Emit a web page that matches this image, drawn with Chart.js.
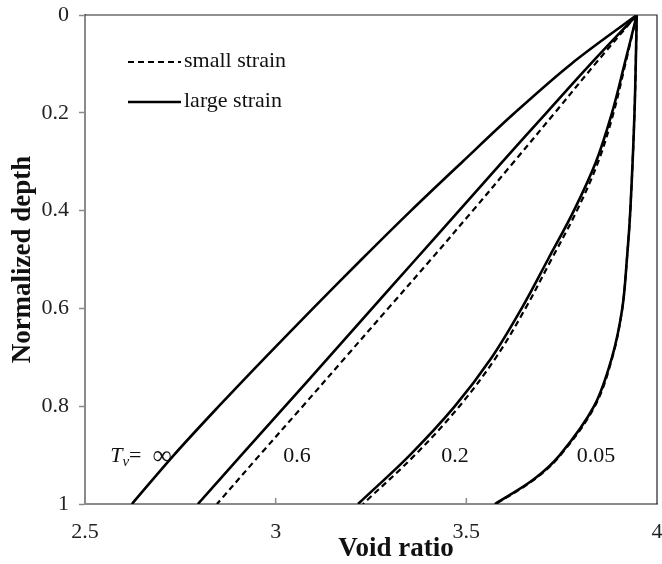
<!DOCTYPE html>
<html>
<head>
<meta charset="utf-8">
<script src="https://cdn.jsdelivr.net/npm/chart.js@4.4.1/dist/chart.umd.min.js"></script>
<style>
  html, body { margin: 0; padding: 0; background: #fff; }
</style>
</head>
<body>
<canvas id="chart" width="662" height="564"></canvas>
<script>
// normalized depth (0 = top surface, 1 = drained base)
const depth = [0, 0.1, 0.2, 0.3, 0.4, 0.5, 0.6, 0.7, 0.8, 0.9, 1]
const depthBase = [0, 0.2, 0.4, 0.5, 0.6, 0.7, 0.8, 0.9, 0.95, 1]

// void ratio profiles for each time factor Tv
const largeInf = [3.947, 3.775, 3.627, 3.490, 3.355, 3.225, 3.098, 2.973, 2.851, 2.733, 2.623]
const large06 = [3.947, 3.826, 3.710, 3.595, 3.481, 3.367, 3.253, 3.139, 3.025, 2.910, 2.796]
const small06 = [3.947, 3.838, 3.732, 3.625, 3.517, 3.407, 3.295, 3.183, 3.071, 2.958, 2.846]
const large02 = [3.947, 3.915, 3.882, 3.840, 3.782, 3.714, 3.645, 3.567, 3.470, 3.352, 3.216]
const small02 = [3.947, 3.917, 3.886, 3.846, 3.790, 3.723, 3.655, 3.578, 3.482, 3.365, 3.229]
const large005 = [3.947, 3.941, 3.930, 3.921, 3.909, 3.882, 3.835, 3.745, 3.676, 3.575]
const small005 = [3.947, 3.941, 3.930, 3.921, 3.909, 3.883, 3.837, 3.747, 3.678, 3.577]

const xTicks = [2.5, 3, 3.5, 4]
const yTicks = [0, 0.2, 0.4, 0.6, 0.8, 1]

const serif = "'Liberation Serif', 'Times New Roman', serif"

function toPoints(ds, es) {
    return es.map((e, i) => ({ x: e, y: ds[i] }))
}

function curve(ds, es, dashed) {
    return {
        data: toPoints(ds, es),
        borderColor: "#000",
        borderWidth: dashed ? 2.2 : 2.6,
        borderDash: dashed ? [6, 4] : [],
        pointRadius: 0,
        showLine: true,
        fill: false,
        tension: 0.35,
    }
}

// frame, inward x ticks, legend, curve labels and axis titles
const decorations = {
    id: "decorations",
    afterDraw(chart) {
        const ctx = chart.ctx
        const area = chart.chartArea
        const xs = chart.scales.x
        const ys = chart.scales.y
        ctx.save()

        ctx.strokeStyle = "#222"
        ctx.lineWidth = 1.2
        ctx.beginPath()
        ctx.moveTo(area.left, area.top)
        ctx.lineTo(area.right, area.top)
        ctx.lineTo(area.right, area.bottom)
        ctx.stroke()

        ctx.strokeStyle = "#8a8a8a"
        ctx.lineWidth = 1.5
        xTicks.slice(1, -1).forEach(v => {
            const px = xs.getPixelForValue(v)
            ctx.beginPath()
            ctx.moveTo(px, area.bottom)
            ctx.lineTo(px, area.bottom - 6)
            ctx.stroke()
        })

        // legend
        ctx.strokeStyle = "#000"
        ctx.lineWidth = 2.2
        ctx.setLineDash([6, 4])
        ctx.beginPath()
        ctx.moveTo(area.left + 43, area.top + 47)
        ctx.lineTo(area.left + 96, area.top + 47)
        ctx.stroke()
        ctx.setLineDash([])
        ctx.lineWidth = 2.6
        ctx.beginPath()
        ctx.moveTo(area.left + 43, area.top + 87)
        ctx.lineTo(area.left + 96, area.top + 87)
        ctx.stroke()

        ctx.fillStyle = "#111"
        ctx.font = "22px " + serif
        ctx.textAlign = "left"
        ctx.textBaseline = "middle"
        ctx.fillText("small strain", area.left + 99, area.top + 46)
        ctx.fillText("large strain", area.left + 99, area.top + 86)

        // Tv labels
        const yLab = ys.getPixelForValue(0.902)
        ctx.font = "22px " + serif
        ctx.textAlign = "center"
        ctx.fillText("0.6", xs.getPixelForValue(3.056), yLab)
        ctx.fillText("0.2", xs.getPixelForValue(3.47), yLab)
        ctx.fillText("0.05", xs.getPixelForValue(3.84), yLab)

        let tx = xs.getPixelForValue(2.566)
        ctx.textAlign = "left"
        ctx.font = "italic 22px " + serif
        ctx.fillText("T", tx, yLab)
        tx += ctx.measureText("T").width
        ctx.font = "italic 15px " + serif
        ctx.fillText("v", tx, yLab + 6)
        tx += ctx.measureText("v").width
        ctx.font = "22px " + serif
        ctx.fillText("=  ", tx, yLab)
        tx += ctx.measureText("=  ").width
        ctx.font = "27px " + serif
        ctx.fillText("\u221e", tx, yLab + 1)

        // axis titles
        ctx.fillStyle = "#111"
        ctx.font = "bold 27px " + serif
        ctx.textAlign = "center"
        ctx.fillText("Void ratio", 396, 549)
        ctx.translate(23, (area.top + area.bottom) / 2)
        ctx.rotate(-Math.PI / 2)
        ctx.fillText("Normalized depth", 0, 0)

        ctx.restore()
    },
}

new Chart(document.getElementById("chart"), {
    type: "scatter",
    data: {
        datasets: [
            curve(depth, largeInf, false),
            curve(depth, large06, false),
            curve(depth, large02, false),
            curve(depthBase, large005, false),
            curve(depth, small06, true),
            curve(depth, small02, true),
            curve(depthBase, small005, true),
        ],
    },
    options: {
        responsive: false,
        animation: false,
        layout: { padding: { top: 15, right: 5, left: 0, bottom: 0 } },
        plugins: { legend: { display: false }, tooltip: { enabled: false } },
        scales: {
            x: {
                type: "linear",
                min: 2.5,
                max: 4,
                afterBuildTicks: s => { s.ticks = xTicks.map(v => ({ value: v })) },
                afterFit: s => {
                    s.height = 60
                    s.paddingLeft = 0
                    s.paddingRight = 0
                },
                grid: { drawOnChartArea: false, drawTicks: false },
                border: { color: "#8a8a8a", width: 2 },
                ticks: {
                    color: "#222",
                    padding: 15,
                    font: { family: serif, size: 22 },
                    callback: v => String(v),
                },
            },
            y: {
                type: "linear",
                reverse: true,
                min: 0,
                max: 1,
                afterBuildTicks: s => { s.ticks = yTicks.map(v => ({ value: v })) },
                afterFit: s => {
                    s.width = 85
                    s.paddingTop = 0
                    s.paddingBottom = 0
                },
                grid: { drawOnChartArea: false, drawTicks: true, tickLength: 6, tickColor: "#8a8a8a", tickWidth: 1.5 },
                border: { color: "#8a8a8a", width: 2 },
                ticks: {
                    color: "#222",
                    padding: 10,
                    font: { family: serif, size: 22 },
                    callback: v => String(v),
                },
            },
        },
    },
    plugins: [decorations],
})
</script>
</body>
</html>
